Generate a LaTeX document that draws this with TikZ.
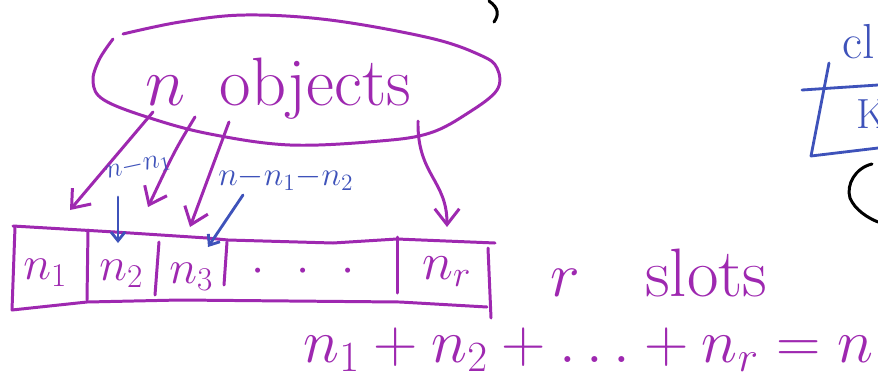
\RequirePackage{fix-cm}
\documentclass[tikz,border=0pt]{standalone}
\usetikzlibrary{arrows.meta}
\definecolor{pen}{RGB}{158,40,176}
\definecolor{ink}{RGB}{62,82,186}
\begin{document}
\begin{tikzpicture}[x=0.02cm,y=-0.02cm,line cap=round,line join=round,
  penline/.style={draw=pen,line width=1.7pt},
  inkline/.style={draw=ink,line width=1.6pt},
  blackline/.style={draw=black,line width=1.7pt},
  parr/.style={penline,-{Straight Barb[length=9pt,width=14pt,line width=1.7pt]}},
  barr/.style={inkline,-{Straight Barb[length=5pt,width=8pt,line width=1.6pt]}},
  bigtext/.style={text=pen,inner sep=0pt,font=\fontsize{39}{41}\selectfont},
  slottext/.style={text=pen,inner sep=0pt,font=\fontsize{27}{29}\selectfont},
  eqtext/.style={text=pen,inner sep=0pt,font=\fontsize{35}{37}\selectfont},
  inktext/.style={text=ink,inner sep=0pt,font=\fontsize{16}{18}\selectfont},
  sidetext/.style={text=ink,inner sep=0pt,font=\fontsize{28}{30}\selectfont}]
\useasboundingbox (0,0) rectangle (878,376);
\clip (0,0) rectangle (878,376);
\fill[white] (0,0) rectangle (878,376);

% objects blob
\draw[penline] plot[smooth,tension=0.6] coordinates {(113,39) (99,60) (93,82) (104,100) (150,118) (210,134) (290,145) (380,141) (430,133) (468,113) (497,90) (497,68) (480,55) (430,38) (330,20) (245,15) (180,22) (123,34)};
\node[bigtext,anchor=base west] (obj) at (145,105) {$n$\hspace{0.5em}objects};

% slot row
\draw[penline] (15,227) -- (12,310);
\draw[penline] (13,226) -- (115,232) -- (207,238) -- (228,240) -- (333,243) -- (397,239) -- (495,243);
\draw[penline] (12,310) -- (87,302) -- (180,300) -- (400,302) -- (487,307);
\draw[penline] (88,230) -- (87,300);
\draw[penline] (159,242) -- (155,295);
\draw[penline] (227,242) -- (224,285);
\draw[penline] (397,237) -- (397,293);
\draw[penline] (488,248) -- (491,318);

\node[slottext,anchor=base west] (n1) at (23,279) {$n_1$};
\node[slottext,anchor=base west] (n2) at (99,280) {$n_2$};
\node[slottext,anchor=base west] (n3) at (169,283) {$n_3$};
\node[slottext] (dots) at (303,272) {$\cdot\;\,\cdot\;\,\cdot$};
\node[slottext,anchor=base west,font=\fontsize{30}{32}\selectfont] (nr) at (422,279) {$n_r$};

\node[bigtext,anchor=base west,font=\fontsize{36}{40}\selectfont] (r) at (550,296) {$r$};
\node[bigtext,anchor=base west,font=\fontsize{39}{40}\selectfont] (slots) at (645,296) {slots};
\node[eqtext,anchor=base west] (sum) at (303,362) {$n_1+n_2+\ldots+n_r=n$};

% arrows from objects to slots
\coordinate (a1) at (153,112); \coordinate (t1) at (70,210);
\coordinate (a2) at (195,117); \coordinate (t2) at (148,207);
\coordinate (a3) at (229,122); \coordinate (t3) at (190,227);
\coordinate (a4) at (418,121); \coordinate (t4) at (447,227);
\draw[parr] (a1) -- (t1);
\draw[parr] (a2) .. controls (175,150) .. (t2);
\draw[parr] (a3) -- (t3);
\draw[parr] (a4) .. controls (417,175) and (447,180) .. (t4);

% blue remainders
\node[inktext,rotate=12] (r1) at (138,166) {$n{-}n_1$};
\node[inktext,font=\fontsize{19}{20}\selectfont] (r2) at (286,178) {$n{-}n_1{-}n_2$};
\coordinate (b1) at (118,197); \coordinate (c1) at (118,243);
\coordinate (b2) at (243,195); \coordinate (c2) at (208,247);
\draw[barr] (b1) -- (c1);
\draw[barr] (b2) -- (c2);

% fragments at the edges
\draw[blackline] (489,1) .. controls (499,8) and (499,15) .. (494,22);
\node[sidetext,anchor=base west] (cl) at (842,58) {cl};
\node[sidetext,anchor=base west,font=\fontsize{24}{26}\selectfont] (k) at (856,128) {K};
\draw[inkline] (802,90) -- (878,85);
\draw[inkline] (829,63) -- (811,156) -- (878,148);
\draw[blackline] (872,164) .. controls (855,168) and (846,185) .. (850,198) .. controls (855,210) and (868,218) .. (878,222);
\end{tikzpicture}
\end{document}
